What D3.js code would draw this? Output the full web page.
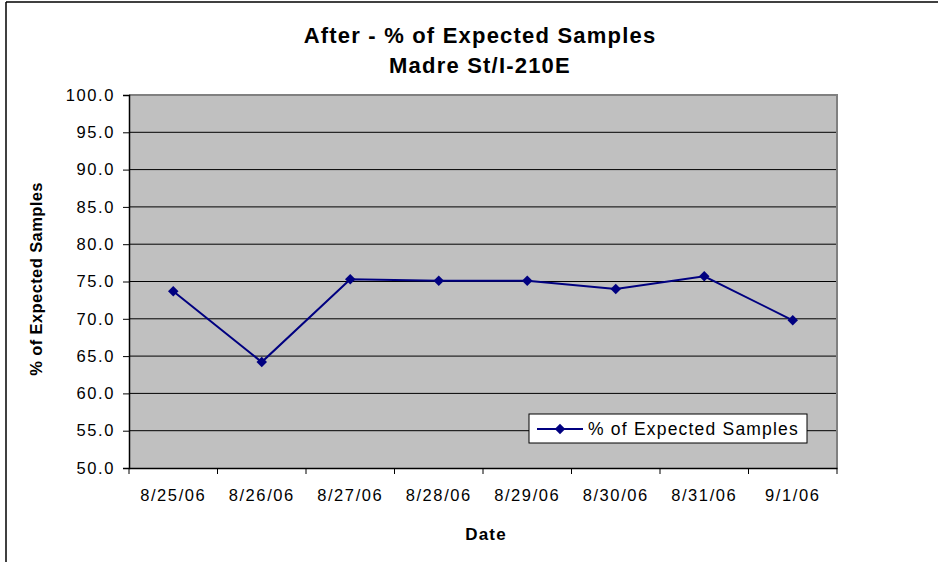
<!DOCTYPE html>
<html><head><meta charset="utf-8">
<script src="https://cdn.jsdelivr.net/npm/d3@7"></script>
<style>body{margin:0;background:#fff}svg{display:block;font-family:"Liberation Sans",Arial,sans-serif}</style>
</head><body><svg id="c" width="938" height="562"></svg>
<script>
const categories = ["8/25/06","8/26/06","8/27/06","8/28/06","8/29/06","8/30/06","8/31/06","9/1/06"];
const values = [73.7, 64.2, 75.3, 75.1, 75.1, 74.0, 75.7, 69.8];
const yTicks = [50,55,60,65,70,75,80,85,90,95,100];
const seriesName = "% of Expected Samples";
const titleLines = ["After - % of Expected Samples","Madre St/I-210E"];
const xTitle = "Date", yTitle = "% of Expected Samples";

const svg = d3.select("#c");
const L = 129, R = 837, T = 95, B = 468;
// outer frame
svg.append("line").attr("x1",6).attr("x2",938).attr("y1",2).attr("y2",2).attr("stroke","#000").attr("stroke-width",1.5);
svg.append("line").attr("x1",6).attr("x2",6).attr("y1",2).attr("y2",562).attr("stroke","#000").attr("stroke-width",1.5);

const x = d3.scaleBand().domain(categories).range([L,R]);
const y = d3.scaleLinear().domain([50,100]).range([B,T]);

svg.append("rect").attr("x",L).attr("y",T).attr("width",R-L).attr("height",B-T).attr("fill","#c0c0c0");
// gridlines
svg.append("g").selectAll("line").data(yTicks.filter(v=>v>50&&v<100)).join("line")
  .attr("x1",L).attr("x2",R).attr("y1",d=>y(d)).attr("y2",d=>y(d)).attr("stroke","#000").attr("stroke-width",1);
// plot border top/right gray
svg.append("path").attr("d",`M${L},${T}H${R}V${B}`).attr("fill","none").attr("stroke","#808080").attr("stroke-width",2);

// axes
const yAxis = d3.axisLeft(y).tickValues(yTicks).tickFormat(d3.format(".1f")).tickSize(6).tickPadding(8);
const gy = svg.append("g").attr("transform",`translate(${L},0)`).call(yAxis);
gy.select(".domain").attr("stroke","#000").attr("stroke-width",1.5);
gy.selectAll("text").attr("font-size",16.5).attr("letter-spacing",1.6).attr("fill","#000").attr("font-family","Liberation Sans, Arial");
gy.selectAll(".tick line").attr("stroke","#000");

const xAxis = d3.axisBottom(x).tickSize(0).tickPadding(21);
const gx = svg.append("g").attr("transform",`translate(0,${B})`).call(xAxis);
gx.select(".domain").attr("stroke","#000").attr("stroke-width",1.5);
gx.selectAll("text").attr("font-size",16.5).attr("letter-spacing",1.6).attr("fill","#000").attr("font-family","Liberation Sans, Arial");
// category boundary ticks
const bounds = categories.map(c=>x(c)).concat([R]);
svg.append("g").selectAll("line").data(bounds).join("line")
  .attr("x1",d=>d).attr("x2",d=>d).attr("y1",B).attr("y2",B+6).attr("stroke","#000");

// line
const line = d3.line().x((d,i)=>x(categories[i])+x.bandwidth()/2).y(d=>y(d));
svg.append("path").datum(values).attr("d",line).attr("fill","none").attr("stroke","#000080").attr("stroke-width",2);
const diamond = d3.symbol().type(d3.symbolDiamond2).size(70);
svg.append("g").selectAll("path").data(values).join("path")
  .attr("d",diamond).attr("fill","#000080")
  .attr("transform",(d,i)=>`translate(${x(categories[i])+x.bandwidth()/2},${y(d)})`);

// titles
svg.append("text").attr("x",480).attr("y",43).attr("text-anchor","middle").attr("font-size",22).attr("letter-spacing",1.2).attr("font-weight","bold").text(titleLines[0]);
svg.append("text").attr("x",480).attr("y",73).attr("text-anchor","middle").attr("font-size",22).attr("letter-spacing",1.2).attr("font-weight","bold").text(titleLines[1]);
svg.append("text").attr("x",486).attr("y",540).attr("text-anchor","middle").attr("font-size",17).attr("letter-spacing",1.2).attr("font-weight","bold").text(xTitle);
svg.append("text").attr("transform","translate(42,279) rotate(-90)").attr("text-anchor","middle").attr("font-size",16.5).attr("letter-spacing",0.4).attr("font-weight","bold").text(yTitle);

// legend
const lg = svg.append("g");
lg.append("rect").attr("x",529).attr("y",414).attr("width",278).attr("height",29).attr("fill","#fff").attr("stroke","#000").attr("stroke-width",1);
lg.append("line").attr("x1",537).attr("x2",583).attr("y1",429).attr("y2",429).attr("stroke","#000080").attr("stroke-width",2);
lg.append("path").attr("d",diamond).attr("fill","#000080").attr("transform","translate(560,429)");
lg.append("text").attr("x",588).attr("y",435).attr("font-size",17.5).attr("letter-spacing",1.2).text(seriesName);
</script></body></html>
